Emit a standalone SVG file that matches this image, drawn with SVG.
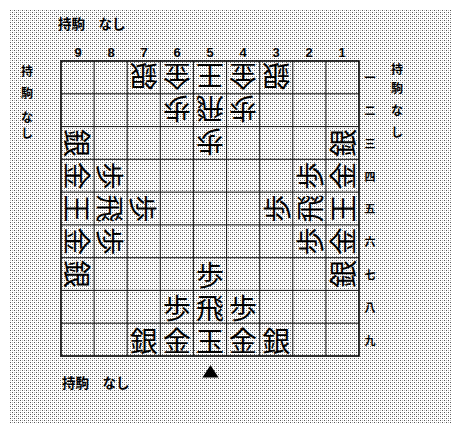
<svg xmlns="http://www.w3.org/2000/svg" width="452" height="424" viewBox="0 0 452 424">
<defs>
<pattern id="stip" width="4" height="4" patternUnits="userSpaceOnUse">
<rect width="4" height="4" fill="#ffffff"/>
<rect x="0" y="0" width="1" height="1" fill="#555"/>
<rect x="2" y="2" width="1" height="1" fill="#555"/>
<rect x="2" y="0" width="1" height="1" fill="#bbb"/>
<rect x="0" y="2" width="1" height="1" fill="#bbb"/>
</pattern>
<style>
.pc{font-family:"Noto Sans CJK JP","Noto Sans CJK SC",sans-serif;font-size:28px;fill:#000;text-anchor:middle;dominant-baseline:central}
.lab{font-family:"Noto Sans CJK JP","Noto Sans CJK SC",sans-serif;font-size:12px;font-weight:bold;fill:#000}
.hand{font-family:"Noto Sans CJK JP","Noto Sans CJK SC",sans-serif;font-size:13.5px;font-weight:bold;fill:#000}
.num{font-family:"Liberation Sans",sans-serif;font-size:13px;font-weight:bold;fill:#000;text-anchor:middle}
.row{font-family:"Noto Sans CJK JP",sans-serif;font-size:11px;font-weight:bold;fill:#000;text-anchor:middle;dominant-baseline:central}
.gl{stroke:#111;stroke-width:1;fill:none}
</style>
</defs>
<rect width="452" height="424" fill="#fff"/>
<rect x="10" y="10" width="442" height="414" fill="url(#stip)"/>

<g id="hand-top"><text class="hand" x="58" y="29">持駒　なし</text></g>
<g id="hand-bottom"><text class="hand" x="62" y="388">持駒　なし</text></g>
<g id="hand-left" class="lab">
<text x="21" y="76">持</text><text x="21" y="98">駒</text><text x="21" y="122">な</text><text x="21" y="138">し</text>
</g>
<g id="hand-right" class="lab">
<text x="391" y="74">持</text><text x="391" y="93">駒</text><text x="391" y="115">な</text><text x="391" y="137">し</text>
</g>

<g id="col-labels" class="num">
<text x="78" y="57">9</text><text x="111" y="57">8</text><text x="144" y="57">7</text><text x="177" y="57">6</text><text x="210" y="57">5</text><text x="243" y="57">4</text><text x="276" y="57">3</text><text x="309" y="57">2</text><text x="342" y="57">1</text>
</g>
<g id="row-labels" class="row">
<text x="370" y="77">一</text><text x="370" y="110">二</text><text x="370" y="143">三</text><text x="370" y="176">四</text><text x="370" y="208">五</text><text x="370" y="241">六</text><text x="370" y="274">七</text><text x="370" y="307">八</text><text x="370" y="340">九</text>
</g>

<g id="board">
<rect x="61" y="61" width="298" height="295" stroke="#000" stroke-width="1.6" fill="none"/>
<path class="gl" d="M94.1 61V356M127.2 61V356M160.3 61V356M193.4 61V356M226.6 61V356M259.7 61V356M292.8 61V356M325.9 61V356M61 93.8H359M61 126.6H359M61 159.3H359M61 192.1H359M61 224.9H359M61 257.7H359M61 290.4H359M61 323.2H359"/>
</g>

<g id="pieces-top">
<g id="p71"><text class="pc" transform="translate(143.8 77.4) rotate(180)">銀</text></g>
<g id="p61"><text class="pc" transform="translate(176.9 77.4) rotate(180)">金</text></g>
<g id="p51"><text class="pc" transform="translate(210 77.4) rotate(180)">王</text></g>
<g id="p41"><text class="pc" transform="translate(243.1 77.4) rotate(180)">金</text></g>
<g id="p31"><text class="pc" transform="translate(276.2 77.4) rotate(180)">銀</text></g>
<g id="p62"><text class="pc" transform="translate(176.9 110.2) rotate(180)">歩</text></g>
<g id="p52"><text class="pc" transform="translate(210 110.2) rotate(180)">飛</text></g>
<g id="p42"><text class="pc" transform="translate(243.1 110.2) rotate(180)">歩</text></g>
<g id="p53"><text class="pc" transform="translate(210 143) rotate(180)">歩</text></g>
</g>

<g id="pieces-left">
<g id="p93"><text class="pc" transform="translate(77.6 143) rotate(90)">銀</text></g>
<g id="p94"><text class="pc" transform="translate(77.6 175.7) rotate(90)">金</text></g>
<g id="p95"><text class="pc" transform="translate(77.6 208.5) rotate(90)">王</text></g>
<g id="p96"><text class="pc" transform="translate(77.6 241.3) rotate(90)">金</text></g>
<g id="p97"><text class="pc" transform="translate(77.6 274.1) rotate(90)">銀</text></g>
<g id="p84"><text class="pc" transform="translate(110.7 175.7) rotate(90)">歩</text></g>
<g id="p85"><text class="pc" transform="translate(110.7 208.5) rotate(90)">飛</text></g>
<g id="p86"><text class="pc" transform="translate(110.7 241.3) rotate(90)">歩</text></g>
<g id="p75"><text class="pc" transform="translate(143.8 208.5) rotate(90)">歩</text></g>
</g>

<g id="pieces-right">
<g id="p13"><text class="pc" transform="translate(342.4 143) rotate(-90)">銀</text></g>
<g id="p14"><text class="pc" transform="translate(342.4 175.7) rotate(-90)">金</text></g>
<g id="p15"><text class="pc" transform="translate(342.4 208.5) rotate(-90)">王</text></g>
<g id="p16"><text class="pc" transform="translate(342.4 241.3) rotate(-90)">金</text></g>
<g id="p17"><text class="pc" transform="translate(342.4 274.1) rotate(-90)">銀</text></g>
<g id="p24"><text class="pc" transform="translate(309.3 175.7) rotate(-90)">歩</text></g>
<g id="p25"><text class="pc" transform="translate(309.3 208.5) rotate(-90)">飛</text></g>
<g id="p26"><text class="pc" transform="translate(309.3 241.3) rotate(-90)">歩</text></g>
<g id="p35"><text class="pc" transform="translate(276.2 208.5) rotate(-90)">歩</text></g>
</g>

<g id="pieces-bottom">
<g id="p57"><text class="pc" x="210" y="274.1">歩</text></g>
<g id="p68"><text class="pc" x="176.9" y="306.8">歩</text></g>
<g id="p58"><text class="pc" x="210" y="306.8">飛</text></g>
<g id="p48"><text class="pc" x="243.1" y="306.8">歩</text></g>
<g id="p79"><text class="pc" x="143.8" y="339.6">銀</text></g>
<g id="p69"><text class="pc" x="176.9" y="339.6">金</text></g>
<g id="p59"><text class="pc" x="210" y="339.6">玉</text></g>
<g id="p49"><text class="pc" x="243.1" y="339.6">金</text></g>
<g id="p39"><text class="pc" x="276.2" y="339.6">銀</text></g>
</g>

<g id="turn-mark"><path d="M210.5 365L202.5 377.5H218.5Z" fill="#000"/></g>
</svg>
